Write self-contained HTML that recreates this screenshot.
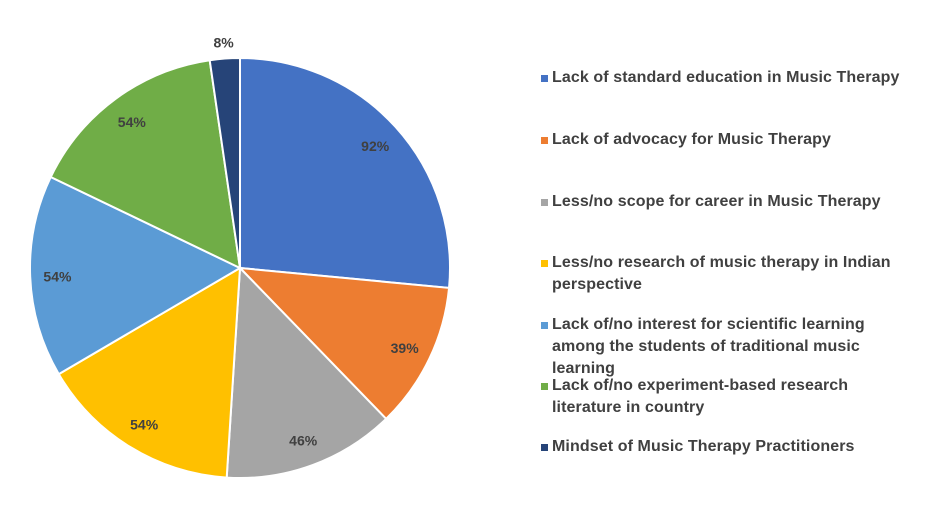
<!DOCTYPE html>
<html><head><meta charset="utf-8"><style>
body{margin:0;background:#fff;width:929px;height:513px;overflow:hidden;font-family:"Liberation Sans",sans-serif}
.lg{position:absolute;left:552px;font-size:16px;font-weight:bold;color:#404040;line-height:22px;white-space:nowrap;letter-spacing:0.1px}
.sq{position:absolute;left:-11px;top:8px;width:7px;height:7px}
</style></head><body>
<svg id="chart" width="929" height="513" style="position:absolute;left:0;top:0"></svg>
<div id="legend"></div>
<script>
const categories=["Lack of standard education in Music Therapy","Lack of advocacy for Music Therapy","Less/no scope for career in Music Therapy","Less/no research of music therapy in Indian|perspective","Lack of/no interest for scientific learning|among the students of traditional music|learning","Lack of/no experiment-based research|literature in country","Mindset of Music Therapy Practitioners"];
const values=[92,39,46,54,54,54,8];
const labels=["92%","39%","46%","54%","54%","54%","8%"];
const colors=["#4472C4","#ED7D31","#A5A5A5","#FFC000","#5B9BD5","#70AD47","#264478"];
const legendTops=[67,129,191,252,314,375,436];
const cx=240,cy=268,r=210,NS="http://www.w3.org/2000/svg";
const svg=document.getElementById('chart');
const total=values.reduce((a,b)=>a+b,0);
let a0=0;
function pt(a,rr){return [cx+rr*Math.sin(a),cy-rr*Math.cos(a)];}
values.forEach((v,i)=>{
  const a1=a0+v/total*2*Math.PI;
  const p0=pt(a0,r),p1=pt(a1,r);
  const path=document.createElementNS(NS,'path');
  path.setAttribute('d',`M${cx},${cy}L${p0[0]},${p0[1]}A${r},${r} 0 ${a1-a0>Math.PI?1:0} 1 ${p1[0]},${p1[1]}Z`);
  path.setAttribute('fill',colors[i]);path.setAttribute('stroke','#fff');path.setAttribute('stroke-width','2');
  
  
  svg.appendChild(path);
  const am=(a0+a1)/2;
  const lp=v/total<0.05?pt(am,r+17):pt(am,r*0.87);
  const t=document.createElementNS(NS,'text');
  t.setAttribute('x',lp[0]);t.setAttribute('y',lp[1]+6);t.setAttribute('text-anchor','middle');
  t.setAttribute('font-size','14');t.setAttribute('font-weight','bold');t.setAttribute('fill','#404040');
  t.textContent=labels[i];
  
  
  svg.appendChild(t);
  a0=a1;
});
const lg=document.getElementById('legend');
categories.forEach((c,i)=>{
  const d=document.createElement('div');d.className='lg';d.style.top=legendTops[i]+'px';
  
  
  d.innerHTML='<span class="sq" style="background:'+colors[i]+'"></span>'+c.split('|').join('<br>');
  lg.appendChild(d);
});
</script>
</body></html>
